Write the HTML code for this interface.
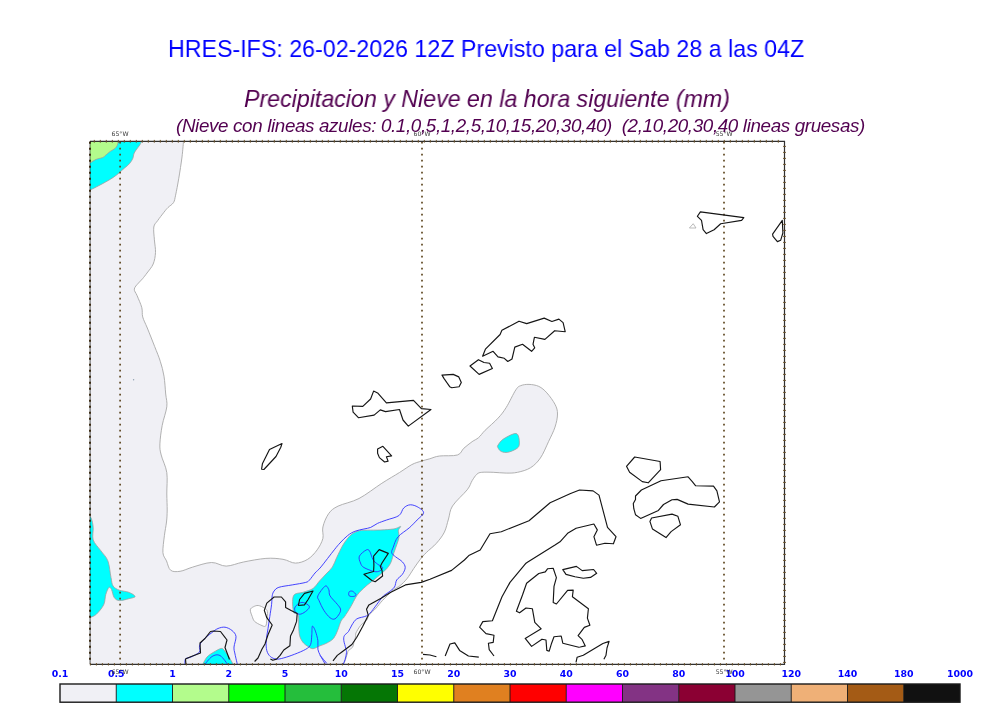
<!DOCTYPE html>
<html><head><meta charset="utf-8"><style>
html,body{margin:0;padding:0;background:#fff;width:1000px;height:707px;overflow:hidden}
body{position:relative}
.t{position:absolute;white-space:pre;will-change:transform;font-family:"Liberation Sans",Arial,sans-serif;line-height:1}
#t1{left:168px;top:37px;font-size:24.6px;color:#0000ff;transform:scaleX(0.944);transform-origin:0 0}
#t2{left:244px;top:88px;font-size:23.6px;color:#520050;font-style:italic;transform:scaleX(0.983);transform-origin:0 0}
#t3{left:176px;top:116.6px;font-size:18.8px;color:#520050;font-style:italic;letter-spacing:-0.35px}
</style></head><body>
<svg width="1000" height="707" viewBox="0 0 1000 707" style="position:absolute;left:0;top:0;will-change:transform"><defs><clipPath id="mc"><rect x="90.0" y="141.3" width="694.5" height="523.0"/></clipPath></defs><g clip-path="url(#mc)"><path d="M90.0 141.0 C90.0 141.0 183.5 141.0 183.5 141.0 C183.5 141.0 182.8 150.8 182.0 157.0 C181.2 163.2 179.9 171.8 178.8 178.2 C177.7 184.6 176.5 191.1 175.6 195.2 C174.7 199.3 174.8 200.5 173.5 202.6 C172.2 204.7 169.6 205.9 168.0 207.5 C166.4 209.1 165.7 210.0 164.0 212.2 C162.3 214.4 159.3 218.2 157.6 220.7 C155.9 223.2 154.3 223.8 153.8 227.0 C153.3 230.2 154.1 235.6 154.4 239.8 C154.7 244.1 155.7 248.5 155.5 252.5 C155.3 256.5 154.6 260.6 153.2 264.0 C151.8 267.4 148.8 270.5 147.0 273.0 C145.2 275.5 143.9 277.1 142.5 278.8 C141.1 280.5 139.9 281.3 138.5 283.0 C137.1 284.7 134.5 287.0 134.3 289.1 C134.1 291.2 135.8 292.5 137.1 295.6 C138.3 298.7 140.9 304.1 141.8 307.6 C142.7 311.2 141.8 313.5 142.7 316.9 C143.6 320.3 145.3 323.1 147.3 328.0 C149.3 332.9 152.5 341.0 154.7 346.6 C156.9 352.2 158.8 356.5 160.3 361.4 C161.9 366.3 163.1 370.8 164.0 376.2 C164.9 381.6 165.2 388.9 165.7 394.0 C166.2 399.1 167.4 401.6 166.8 406.8 C166.2 412.0 163.3 419.2 162.2 425.4 C161.0 431.6 160.1 439.0 159.9 443.9 C159.7 448.8 160.0 450.2 161.2 455.0 C162.3 459.8 165.9 466.1 166.8 472.6 C167.7 479.1 166.7 487.8 166.8 494.0 C166.9 500.2 167.2 505.3 167.2 510.0 C167.1 514.7 167.0 517.7 166.5 522.0 C166.0 526.3 165.0 530.6 164.4 535.7 C163.8 540.8 162.6 548.3 162.9 552.5 C163.2 556.7 165.2 557.9 166.5 560.9 C167.8 563.9 168.4 568.6 170.7 570.3 C173.0 572.0 176.4 571.8 180.1 571.3 C183.8 570.8 187.5 568.6 192.7 567.1 C197.9 565.6 205.9 562.7 211.5 562.5 C217.1 562.3 220.9 566.2 226.2 566.1 C231.5 566.0 236.9 563.3 243.5 562.0 C250.1 560.7 259.3 558.9 265.9 558.4 C272.5 557.9 278.1 558.5 283.0 559.3 C287.9 560.1 291.3 563.1 295.4 563.1 C299.5 563.1 304.1 561.5 307.7 559.3 C311.3 557.1 314.7 553.3 317.2 549.8 C319.7 546.3 321.9 542.2 322.9 538.4 C323.8 534.6 321.9 531.1 322.9 527.0 C323.8 522.9 326.1 517.2 328.6 513.7 C331.1 510.2 333.0 508.6 338.1 506.1 C343.2 503.6 351.7 502.3 359.0 498.5 C366.3 494.7 375.1 487.6 381.8 483.3 C388.6 479.0 394.5 475.6 399.5 472.5 C404.5 469.4 408.2 466.5 411.8 464.6 C415.4 462.7 418.4 462.1 421.4 461.1 C424.4 460.1 426.8 459.7 429.8 458.8 C432.8 457.9 434.9 456.6 439.5 456.0 C444.1 455.4 453.3 456.3 457.4 455.0 C461.5 453.7 461.4 450.4 463.9 448.2 C466.3 446.0 469.7 443.5 472.1 441.7 C474.6 439.9 476.4 439.5 478.6 437.6 C480.8 435.7 481.9 433.6 485.1 430.3 C488.4 427.1 494.6 421.9 498.1 418.1 C501.6 414.3 503.2 412.2 506.2 407.5 C509.2 402.8 513.5 393.2 516.0 389.6 C518.5 386.0 518.7 386.5 520.9 385.6 C523.1 384.7 526.0 384.3 529.0 384.4 C532.0 384.5 535.8 385.0 538.8 386.4 C541.8 387.8 544.2 389.9 546.9 392.9 C549.6 395.9 553.2 400.8 555.0 404.3 C556.8 407.8 557.5 410.2 557.5 414.0 C557.5 417.8 556.5 422.5 555.0 427.1 C553.5 431.7 550.9 436.6 548.5 441.7 C546.1 446.8 543.4 453.7 540.4 458.0 C537.4 462.3 534.4 465.3 530.6 467.7 C526.8 470.1 521.7 471.4 517.6 472.3 C513.5 473.2 510.3 473.1 506.2 473.1 C502.1 473.1 497.3 472.4 493.2 472.3 C489.1 472.2 484.5 472.0 481.8 472.3 C479.1 472.6 478.5 472.8 476.9 474.2 C475.3 475.6 473.7 478.1 472.1 480.7 C470.5 483.3 470.5 485.6 467.2 489.8 C463.9 494.0 455.6 501.1 452.5 506.0 C449.4 510.9 449.9 514.6 448.5 519.0 C447.1 523.4 446.4 528.0 444.4 532.1 C442.4 536.2 439.3 540.0 436.3 543.4 C433.3 546.8 429.2 549.7 426.5 552.4 C423.8 555.1 422.1 557.0 420.0 559.7 C417.9 562.4 415.9 565.4 413.7 568.6 C411.5 571.8 409.2 576.0 406.9 578.8 C404.6 581.6 402.4 583.7 400.1 585.6 C397.8 587.5 396.3 587.6 393.3 590.1 C390.3 592.6 385.2 597.7 382.3 600.7 C379.4 603.7 378.4 605.6 376.2 608.0 C374.0 610.4 370.5 613.3 368.9 615.3 C367.3 617.3 368.2 618.3 366.8 620.0 C365.4 621.7 362.5 623.2 360.7 625.4 C358.9 627.5 356.9 631.0 356.0 632.9 C355.1 634.8 356.0 635.4 355.6 637.0 C355.2 638.6 354.4 640.7 353.9 642.4 C353.4 644.1 353.5 645.9 352.6 647.2 C351.7 648.6 349.4 649.4 348.5 650.5 C347.6 651.6 347.8 652.3 347.2 654.0 C346.6 655.7 345.8 658.9 345.1 660.7 C344.4 662.5 343.1 665.0 343.1 665.0 C343.1 665.0 90.0 665.0 90.0 665.0 C90.0 665.0 90.0 141.0 90.0 141.0 Z M250.3 609.8 C250.5 608.2 252.1 607.5 253.4 606.8 C254.7 606.1 256.4 605.3 258.2 605.5 C260.0 605.7 262.8 607.0 264.3 608.0 C265.8 609.0 267.0 609.6 267.4 611.6 C267.8 613.6 267.1 617.7 266.8 620.1 C266.5 622.5 266.5 625.4 265.5 626.2 C264.5 627.0 262.5 625.8 260.7 625.0 C258.9 624.2 256.0 622.8 254.6 621.4 C253.2 620.0 252.9 618.4 252.2 616.5 C251.5 614.6 250.1 611.4 250.3 609.8 Z" fill="#f0f0f5" fill-rule="evenodd" stroke="#a8a8a8" stroke-width="0.9"/><path d="M89.0 140.0 C89.0 140.0 142.3 140.0 142.3 140.0 C142.3 140.0 140.7 143.4 139.7 145.1 C138.7 146.8 137.1 148.4 136.1 149.9 C135.1 151.4 134.3 152.6 133.8 154.0 C133.3 155.4 133.6 156.6 132.9 158.2 C132.2 159.8 130.9 161.9 129.6 163.5 C128.3 165.1 126.6 166.2 124.9 167.7 C123.2 169.2 121.4 170.9 119.5 172.5 C117.6 174.1 115.7 175.8 113.6 177.2 C111.5 178.6 109.5 179.8 107.0 181.2 C104.5 182.6 101.4 184.3 98.7 185.7 C96.0 187.1 92.7 188.8 91.1 189.5 C89.5 190.2 89.0 190.2 89.0 190.2 C89.0 190.2 89.0 140.0 89.0 140.0 Z" fill="#00ffff" stroke="#a0a0a0" stroke-width="0.8"/><path d="M89.0 515.5 C89.0 515.5 90.8 517.0 91.5 519.0 C92.2 521.0 92.9 523.9 93.2 527.4 C93.5 530.9 92.0 536.1 93.2 539.9 C94.4 543.7 98.1 546.9 100.6 550.4 C103.0 553.9 106.2 556.4 107.9 560.9 C109.6 565.4 110.1 573.4 111.0 577.6 C111.9 581.8 111.7 583.9 113.1 586.0 C114.5 588.1 116.8 589.2 119.4 590.2 C122.0 591.2 126.2 591.2 128.8 592.3 C131.4 593.3 135.1 595.4 135.1 596.5 C135.1 597.6 131.4 598.0 128.8 598.7 C126.2 599.4 121.8 600.8 119.4 600.6 C117.0 600.4 115.5 599.4 114.2 597.5 C112.9 595.6 112.4 591.2 111.5 589.5 C110.6 587.8 109.9 586.7 108.9 587.5 C108.0 588.3 106.7 591.5 105.8 594.4 C104.9 597.3 105.3 601.5 103.7 604.8 C102.1 608.1 98.6 612.1 96.4 614.2 C94.2 616.3 91.7 616.8 90.5 617.4 C89.3 618.0 89.0 617.6 89.0 617.6 C89.0 617.6 89.0 515.5 89.0 515.5 Z" fill="#00ffff" stroke="#a0a0a0" stroke-width="0.8"/><path d="M293.5 595.8 C295.1 592.5 300.1 593.4 303.3 592.2 C306.6 591.0 310.3 590.4 313.0 588.5 C315.7 586.6 317.3 583.4 319.5 581.0 C321.7 578.6 323.9 576.3 326.0 574.0 C328.1 571.7 330.6 569.8 332.4 567.0 C334.2 564.2 335.1 560.8 336.8 557.3 C338.5 553.8 340.7 549.0 342.4 546.0 C344.1 543.0 345.3 541.3 347.0 539.2 C348.7 537.1 350.5 535.0 352.6 533.6 C354.7 532.2 356.9 531.3 359.4 530.7 C361.8 530.1 363.7 530.3 367.3 530.2 C370.9 530.1 376.6 530.2 380.9 530.0 C385.2 529.8 390.6 529.4 393.3 529.0 C396.0 528.6 396.1 528.3 397.3 527.9 C398.5 527.5 400.5 526.1 400.7 526.5 C400.9 526.9 398.7 528.5 398.4 530.2 C398.1 532.0 399.3 534.5 399.0 537.0 C398.7 539.5 397.6 542.3 396.7 544.9 C395.8 547.5 394.8 550.0 393.9 552.8 C393.0 555.6 392.1 559.4 391.1 561.9 C390.1 564.4 389.0 565.8 387.7 567.5 C386.4 569.2 385.3 570.1 383.2 572.0 C381.1 573.9 377.8 576.6 375.2 578.8 C372.6 581.0 369.8 582.9 367.3 585.0 C364.9 587.1 362.4 589.3 360.5 591.3 C358.6 593.3 357.6 594.4 356.0 597.0 C354.4 599.6 352.6 603.5 350.7 606.8 C348.8 610.0 346.2 614.1 344.6 616.5 C343.0 618.9 342.1 618.7 341.0 621.0 C339.9 623.3 338.9 627.3 337.7 630.2 C336.5 633.1 335.4 636.1 333.6 638.3 C331.8 640.4 329.1 641.9 326.8 643.1 C324.5 644.4 322.3 644.9 320.0 645.8 C317.7 646.7 315.0 648.6 313.0 648.7 C311.0 648.8 309.7 647.5 308.1 646.5 C306.5 645.5 304.9 644.6 303.5 643.0 C302.1 641.4 300.8 639.4 300.0 637.0 C299.2 634.6 299.1 632.5 298.8 628.7 C298.5 624.9 299.1 616.9 298.2 614.1 C297.3 611.3 294.3 615.0 293.5 612.0 C292.7 609.0 291.9 599.1 293.5 595.8 Z" fill="#00ffff" stroke="#a0a0a0" stroke-width="0.8"/><path d="M202.5 665.0 C202.5 665.0 205.1 659.2 207.0 657.0 C208.9 654.8 211.7 653.4 214.0 652.0 C216.3 650.6 219.3 648.8 221.0 648.5 C222.7 648.2 222.7 648.6 224.0 650.0 C225.3 651.4 227.4 654.5 229.0 657.0 C230.6 659.5 233.5 665.0 233.5 665.0 C233.5 665.0 202.5 665.0 202.5 665.0 Z" fill="#00ffff" stroke="#a0a0a0" stroke-width="0.8"/><path d="M498.1 445.0 C499.0 443.6 500.3 441.2 503.0 439.3 C505.7 437.4 511.8 434.2 514.4 433.6 C517.0 433.1 517.6 434.1 518.4 436.0 C519.2 437.9 519.6 442.8 519.2 445.0 C518.8 447.2 517.9 447.8 516.0 449.0 C514.1 450.2 510.2 451.9 507.8 452.3 C505.4 452.7 503.0 452.3 501.3 451.5 C499.6 450.7 498.3 448.5 497.8 447.4 C497.3 446.3 497.2 446.4 498.1 445.0 Z" fill="#00ffff" stroke="#a0a0a0" stroke-width="0.8"/><path d="M89.0 140.0 C89.0 140.0 118.8 140.0 118.8 140.0 C118.8 140.0 117.9 143.9 117.3 145.3 C116.7 146.7 116.1 147.5 115.0 148.5 C113.9 149.5 112.2 150.1 110.5 151.3 C108.8 152.5 106.4 154.6 105.1 155.7 C103.8 156.8 104.2 156.9 102.6 157.6 C101.0 158.2 97.5 158.8 95.6 159.6 C93.7 160.4 92.2 161.9 91.1 162.4 C90.0 162.9 89.0 162.8 89.0 162.8 C89.0 162.8 89.0 140.0 89.0 140.0 Z" fill="#b3fc8c" stroke="#a0a0a0" stroke-width="0.8"/><path d="M689.4 228.0 L693.2 223.7 L696.0 228.0 Z" fill="none" stroke="#aaa" stroke-width="0.8"/><circle cx="133.6" cy="379.8" r="0.7" fill="#8fa0b0"/><line x1="120.1" y1="141.8" x2="120.1" y2="663.8" stroke="#5e4720" stroke-width="1.7" stroke-dasharray="1.6 4.4"/><line x1="422.0" y1="141.8" x2="422.0" y2="663.8" stroke="#5e4720" stroke-width="1.7" stroke-dasharray="1.6 4.4"/><line x1="724.0" y1="141.8" x2="724.0" y2="663.8" stroke="#5e4720" stroke-width="1.7" stroke-dasharray="1.6 4.4"/><path d="M325.2 664.0 C325.2 664.0 321.5 657.9 320.3 655.4 C319.1 652.9 318.3 651.7 317.9 649.3 C317.5 646.9 318.3 643.8 317.9 640.8 C317.5 637.8 316.3 633.5 315.4 631.1 C314.5 628.7 313.0 625.6 312.4 626.2 C311.8 626.8 312.1 631.7 311.8 634.7 C311.5 637.8 311.6 642.1 310.6 644.5 C309.6 646.9 308.4 647.7 305.7 649.3 C303.0 650.9 298.3 652.8 294.7 654.2 C291.1 655.6 286.8 657.1 283.8 657.9 C280.8 658.7 278.7 659.3 276.5 659.1 C274.3 658.9 272.0 658.0 270.4 656.6 C268.8 655.2 267.5 653.2 266.8 650.6 C266.1 648.0 266.0 644.4 266.2 640.8 C266.4 637.1 267.4 632.8 268.0 628.7 C268.6 624.7 269.2 620.6 269.8 616.5 C270.4 612.4 271.2 607.8 271.6 604.3 C272.0 600.8 271.8 598.0 272.2 595.8 C272.6 593.6 273.0 592.4 274.1 591.0 C275.2 589.6 275.9 588.3 278.9 587.3 C281.9 586.3 287.8 585.7 292.3 584.9 C296.8 584.1 302.8 583.2 305.7 582.4 C308.6 581.6 307.9 581.6 309.5 580.0 C311.1 578.4 313.1 575.2 315.0 573.0 C316.9 570.8 317.8 570.8 321.0 566.9 C324.2 563.0 331.1 553.8 334.3 549.8 C337.5 545.8 337.8 545.4 340.0 543.0 C342.2 540.6 345.1 537.6 347.6 535.6 C350.1 533.6 352.2 532.4 354.9 531.3 C357.6 530.2 361.3 529.6 363.9 529.0 C366.5 528.4 368.4 528.3 370.7 527.4 C373.0 526.5 374.9 524.6 377.5 523.4 C380.1 522.2 383.0 521.3 386.6 520.0 C390.2 518.7 396.0 517.6 398.9 515.6 C401.8 513.6 401.8 509.8 403.7 508.0 C405.6 506.2 407.9 504.9 410.3 504.8 C412.7 504.7 415.7 505.8 417.9 507.1 C420.1 508.4 423.7 510.6 423.6 512.8 C423.5 514.9 419.5 517.5 417.1 520.0 C414.7 522.5 412.4 525.1 409.2 527.9 C406.0 530.7 400.5 533.8 397.9 537.0 C395.2 540.2 394.3 544.5 393.3 547.1 C392.3 549.7 391.3 551.2 391.7 552.8 C392.1 554.4 393.8 555.3 395.6 556.8 C397.4 558.3 400.8 560.1 402.4 561.9 C404.0 563.7 405.2 565.4 405.2 567.5 C405.2 569.6 403.8 572.2 402.4 574.3 C401.0 576.4 398.0 577.9 396.7 580.0 C395.4 582.1 395.8 585.0 394.5 587.0 C393.2 589.0 390.8 590.5 389.0 592.0 C387.2 593.5 385.2 594.1 383.5 595.8 C381.8 597.4 380.7 599.3 378.7 601.9 C376.7 604.5 373.4 609.3 371.4 611.6 C369.4 613.9 368.9 614.7 366.5 615.9 C364.1 617.1 359.2 617.4 356.8 618.9 C354.4 620.4 353.3 622.9 351.9 625.0 C350.5 627.1 349.8 629.7 348.5 631.5 C347.2 633.3 345.2 634.1 344.4 635.6 C343.6 637.1 343.6 638.2 343.8 640.4 C344.0 642.5 345.4 646.5 345.8 648.5 C346.2 650.5 346.6 650.8 346.5 652.6 C346.4 654.4 345.7 657.4 345.1 659.4 C344.5 661.4 343.1 664.5 343.1 664.5M359.4 556.2 C360.3 554.0 364.5 550.9 366.2 550.0 C367.9 549.1 368.5 549.5 369.6 551.1 C370.7 552.7 371.7 557.4 373.0 559.6 C374.3 561.8 375.9 562.8 377.5 564.1 C379.1 565.4 382.2 566.4 382.6 567.5 C383.0 568.6 381.2 570.2 379.8 570.9 C378.4 571.6 376.8 572.1 374.1 571.5 C371.5 570.9 366.2 568.9 363.9 567.5 C361.6 566.1 361.2 564.9 360.5 563.0 C359.8 561.1 358.4 558.4 359.4 556.2 ZM349.2 591.8 C349.8 591.0 351.5 590.8 352.6 591.3 C353.7 591.8 355.8 593.9 356.0 594.7 C356.2 595.6 354.9 596.2 353.8 596.4 C352.7 596.6 350.0 596.6 349.2 595.8 C348.4 595.0 348.6 592.5 349.2 591.8 ZM294.7 608.0 C295.1 606.5 297.0 604.6 298.4 603.7 C299.8 602.8 301.5 602.1 303.3 602.5 C305.1 602.9 308.7 604.9 309.3 606.2 C309.9 607.5 308.3 609.1 306.9 610.4 C305.5 611.7 302.6 613.7 300.8 614.1 C299.0 614.5 297.0 613.8 296.0 612.8 C295.0 611.8 294.3 609.5 294.7 608.0 ZM317.9 595.8 C318.9 593.4 323.4 587.1 325.2 586.1 C327.0 585.1 328.0 588.1 328.8 589.7 C329.6 591.3 328.6 593.4 330.0 595.8 C331.4 598.2 335.6 602.1 337.3 604.3 C339.1 606.5 340.1 607.5 340.5 609.0 C340.9 610.5 340.4 611.9 339.5 613.5 C338.6 615.1 336.5 618.2 334.9 618.9 C333.3 619.6 331.8 619.1 330.0 617.7 C328.2 616.3 325.7 613.2 323.9 610.4 C322.1 607.6 320.1 603.1 319.1 600.7 C318.1 598.3 316.9 598.2 317.9 595.8 ZM185.0 665.0 C185.0 665.0 184.5 660.3 185.5 659.0 C186.5 657.7 188.7 658.2 191.0 657.0 C193.3 655.8 198.1 653.8 199.5 652.0 C200.9 650.2 198.9 648.0 199.5 646.0 C200.1 644.0 200.9 642.2 203.0 640.0 C205.1 637.8 209.5 634.4 212.0 632.5 C214.5 630.6 215.8 629.4 218.0 628.5 C220.2 627.6 222.7 626.9 225.0 627.2 C227.3 627.5 230.2 629.0 232.0 630.5 C233.8 632.0 235.7 633.8 236.0 636.5 C236.3 639.2 234.2 644.1 234.0 647.0 C233.8 649.9 234.4 651.0 235.0 654.0 C235.6 657.0 237.5 665.0 237.5 665.0M204.5 665.0 C204.5 665.0 209.4 658.1 212.0 656.5 C214.6 654.9 217.3 654.1 220.0 655.5 C222.7 656.9 228.0 665.0 228.0 665.0M320.0 655.3 C320.0 655.3 326.8 663.4 326.8 663.4" fill="none" stroke="#3030ff" stroke-width="0.9" stroke-linejoin="round"/><path d="M352.3 406.0 L362.8 406.4 L370.6 399.0 L373.6 391.1 L377.6 392.9 L386.4 402.9 L413.5 400.4 L421.4 408.6 L431.0 409.5 L408.3 426.1 L403.0 420.0 L399.5 409.5 L385.5 411.6 L380.3 409.9 L374.1 415.1 L358.4 417.7 L353.1 412.1 ZM377.6 448.9 L382.9 446.3 L391.6 455.9 L386.4 456.8 L388.1 461.1 L384.6 462.0 L379.4 457.6 L377.6 453.3 ZM282.0 443.5 L269.5 449.4 L262.4 463.8 L261.6 469.2 L263.9 469.5 L276.0 456.5 L280.8 447.2 ZM379.2 549.6 L388.3 553.4 L382.0 563.0 L380.3 566.4 L382.0 570.3 L382.6 576.0 L375.2 581.7 L371.9 580.5 L363.9 574.3 L367.3 573.2 L373.6 571.5 L373.9 565.2 L373.6 556.2 ZM313.0 591.0 L304.5 593.4 L299.6 599.5 L298.4 605.5 L304.5 604.9 L308.1 599.5 ZM482.6 356.2 L485.4 349.2 L500.1 334.5 L501.9 330.3 L519.0 321.2 L526.7 323.6 L544.2 318.1 L551.9 321.5 L558.9 319.1 L563.1 322.6 L565.2 331.7 L554.7 330.7 L544.9 339.4 L534.4 337.3 L533.0 344.3 L534.7 347.8 L531.6 351.3 L522.5 344.3 L514.8 347.1 L512.0 359.0 L507.8 361.5 L504.3 358.3 L498.0 356.9 L493.1 351.3 ZM470.0 366.0 L478.4 359.7 L484.0 362.5 L489.6 363.2 L492.4 368.5 L479.1 374.4 ZM442.0 375.1 L453.2 374.4 L458.8 376.9 L461.3 382.5 L459.1 386.7 L451.8 387.7 L449.7 386.7 L444.1 378.6 ZM700.4 211.9 L743.8 217.6 L741.6 220.4 L720.7 223.7 L714.1 229.7 L706.4 233.6 L703.1 229.7 L701.5 220.4 L697.4 216.3 ZM782.3 220.4 L782.9 233.0 L780.7 240.2 L777.4 241.6 L773.0 236.3 L772.6 234.1 ZM634.7 457.0 L660.1 461.5 L660.6 469.7 L648.2 482.8 L642.3 481.6 L629.6 472.2 L626.5 466.3 ZM641.4 490.0 L661.0 480.7 L688.1 476.8 L692.3 481.6 L695.7 485.8 L713.5 486.1 L716.9 490.9 L719.5 501.9 L714.4 507.0 L688.1 504.1 L677.1 499.4 L672.0 499.7 L663.5 504.5 L658.4 510.4 L640.6 518.4 L635.5 514.7 L633.8 508.7 L633.3 503.6 L635.5 499.4 L635.5 496.0 ZM651.6 518.0 L672.0 514.1 L677.9 516.3 L680.5 524.8 L671.1 531.6 L666.0 537.6 L652.5 529.1 L649.9 521.4 ZM562.8 569.6 L576.4 566.4 L582.2 570.6 L593.6 569.5 L596.7 573.3 L590.5 577.4 L583.3 578.2 L575.0 576.8 L566.0 574.4 ZM516.4 611.2 L522.5 595.0 L526.6 583.3 L538.8 573.5 L545.3 571.9 L547.7 568.7 L553.2 568.3 L556.4 577.6 L554.0 586.4 L553.2 602.4 L556.4 604.0 L567.6 590.4 L573.2 590.1 L572.4 596.8 L588.4 608.8 L587.4 618.1 L589.9 625.3 L584.3 627.4 L578.1 635.6 L582.2 639.7 L585.3 645.9 L580.2 647.0 L578.8 647.2 L562.8 643.2 L561.2 636.0 L554.0 636.8 L551.6 643.2 L549.2 651.2 L546.8 650.4 L546.0 640.0 L542.0 639.2 L531.6 646.4 L525.2 638.4 L541.2 628.8 L534.8 622.4 L532.4 608.8 L526.0 608.0 L519.6 612.8 ZM333.0 660.9 L337.3 655.4 L342.2 651.8 L351.9 644.5 L356.8 637.2 L362.8 626.2 L368.3 615.3 L366.5 609.2 L368.9 604.9 L381.1 598.2 L390.8 592.2 L405.4 584.9 L421.2 582.4 L430.0 579.2 L451.6 570.4 L464.4 560.0 L468.8 555.6 L480.2 550.0 L490.0 533.7 L501.3 531.7 L529.0 520.7 L550.1 502.8 L570.0 493.8 L579.5 490.0 L593.1 490.9 L599.0 495.1 L607.5 527.4 L616.0 536.7 L613.4 543.8 L605.0 543.2 L596.5 545.2 L593.9 536.7 L597.3 529.9 L593.9 524.0 L576.1 528.2 L567.6 533.3 L560.0 541.8 L555.0 545.1 L527.4 562.2 L526.0 563.2 L510.0 582.4 L502.0 596.8 L492.4 620.8 L482.8 621.6 L479.6 627.2 L486.0 633.6 L494.0 635.2 L493.2 642.4 L488.4 643.2 L489.2 649.6 L494.0 656.0M423.0 654.4 L430.0 655.0 L436.4 656.8M445.2 656.0 L450.0 644.0 L454.8 642.9 L459.6 650.4 L468.4 656.0 L478.8 657.1M576.0 662.4 L577.1 657.3 L583.3 655.2 L602.9 643.5 L609.1 641.4 L607.0 648.0 L606.0 655.2 L603.9 659.3M254.6 661.5 L258.0 658.0 L261.9 649.3 L265.0 644.0 L268.0 634.7 L272.2 625.0 L266.8 617.7 L264.3 610.4 L266.8 603.1 L274.1 597.0 L281.4 597.0 L285.6 601.9 L285.6 607.4 L291.1 610.4 L297.2 613.5 L296.6 621.4 L293.5 629.9 L290.5 636.0 L289.9 645.7 L283.8 650.0 L280.1 655.4 L276.5 659.1 L272.8 660.3 L270.4 659.1M186.0 665.0 L185.5 659.0 L190.0 657.0 L200.5 653.0 L200.0 643.0 L205.0 638.5 L210.5 631.5 L213.5 631.0 L220.5 631.5 L227.0 640.0 L225.0 647.5 L229.5 659.5" fill="none" stroke="#151515" stroke-width="1.15" stroke-linejoin="round"/></g><path d="M90.0 141.3H784.5V664.3H90.0" fill="none" stroke="#303030" stroke-width="1.2"/><line x1="90.0" y1="141.3" x2="90.0" y2="664.3" stroke="#000" stroke-opacity="0.5" stroke-width="1.2"/><path d="M94.3 139.9v2.8M100.3 139.9v2.8M106.3 139.9v2.8M112.3 139.9v2.8M118.3 139.9v2.8M124.3 139.9v2.8M130.3 139.9v2.8M136.3 139.9v2.8M142.3 139.9v2.8M148.3 139.9v2.8M154.3 139.9v2.8M160.3 139.9v2.8M166.3 139.9v2.8M172.3 139.9v2.8M178.3 139.9v2.8M184.3 139.9v2.8M190.3 139.9v2.8M196.3 139.9v2.8M202.3 139.9v2.8M208.3 139.9v2.8M214.3 139.9v2.8M220.3 139.9v2.8M226.3 139.9v2.8M232.3 139.9v2.8M238.3 139.9v2.8M244.3 139.9v2.8M250.3 139.9v2.8M256.3 139.9v2.8M262.3 139.9v2.8M268.3 139.9v2.8M274.3 139.9v2.8M280.3 139.9v2.8M286.3 139.9v2.8M292.3 139.9v2.8M298.3 139.9v2.8M304.3 139.9v2.8M310.3 139.9v2.8M316.3 139.9v2.8M322.3 139.9v2.8M328.3 139.9v2.8M334.3 139.9v2.8M340.3 139.9v2.8M346.3 139.9v2.8M352.3 139.9v2.8M358.3 139.9v2.8M364.3 139.9v2.8M370.3 139.9v2.8M376.3 139.9v2.8M382.3 139.9v2.8M388.3 139.9v2.8M394.3 139.9v2.8M400.3 139.9v2.8M406.3 139.9v2.8M412.3 139.9v2.8M418.3 139.9v2.8M424.3 139.9v2.8M430.3 139.9v2.8M436.3 139.9v2.8M442.3 139.9v2.8M448.3 139.9v2.8M454.3 139.9v2.8M460.3 139.9v2.8M466.3 139.9v2.8M472.3 139.9v2.8M478.3 139.9v2.8M484.3 139.9v2.8M490.3 139.9v2.8M496.3 139.9v2.8M502.3 139.9v2.8M508.3 139.9v2.8M514.3 139.9v2.8M520.3 139.9v2.8M526.3 139.9v2.8M532.3 139.9v2.8M538.3 139.9v2.8M544.3 139.9v2.8M550.3 139.9v2.8M556.3 139.9v2.8M562.3 139.9v2.8M568.3 139.9v2.8M574.3 139.9v2.8M580.3 139.9v2.8M586.3 139.9v2.8M592.3 139.9v2.8M598.3 139.9v2.8M604.3 139.9v2.8M610.3 139.9v2.8M616.3 139.9v2.8M622.3 139.9v2.8M628.3 139.9v2.8M634.3 139.9v2.8M640.3 139.9v2.8M646.3 139.9v2.8M652.3 139.9v2.8M658.3 139.9v2.8M664.3 139.9v2.8M670.3 139.9v2.8M676.3 139.9v2.8M682.3 139.9v2.8M688.3 139.9v2.8M694.3 139.9v2.8M700.3 139.9v2.8M706.3 139.9v2.8M712.3 139.9v2.8M718.3 139.9v2.8M724.3 139.9v2.8M730.3 139.9v2.8M736.3 139.9v2.8M742.3 139.9v2.8M748.3 139.9v2.8M754.3 139.9v2.8M760.3 139.9v2.8M766.3 139.9v2.8M772.3 139.9v2.8M778.3 139.9v2.8M90.4 663.0999999999999v2.4M96.4 663.0999999999999v2.4M102.4 663.0999999999999v2.4M108.4 663.0999999999999v2.4M114.4 663.0999999999999v2.4M120.4 663.0999999999999v2.4M126.4 663.0999999999999v2.4M132.4 663.0999999999999v2.4M138.4 663.0999999999999v2.4M144.4 663.0999999999999v2.4M150.4 663.0999999999999v2.4M156.4 663.0999999999999v2.4M162.4 663.0999999999999v2.4M168.4 663.0999999999999v2.4M174.4 663.0999999999999v2.4M180.4 663.0999999999999v2.4M186.4 663.0999999999999v2.4M192.4 663.0999999999999v2.4M198.4 663.0999999999999v2.4M204.4 663.0999999999999v2.4M210.4 663.0999999999999v2.4M216.4 663.0999999999999v2.4M222.4 663.0999999999999v2.4M228.4 663.0999999999999v2.4M234.4 663.0999999999999v2.4M240.4 663.0999999999999v2.4M246.4 663.0999999999999v2.4M252.4 663.0999999999999v2.4M258.4 663.0999999999999v2.4M264.4 663.0999999999999v2.4M270.4 663.0999999999999v2.4M276.4 663.0999999999999v2.4M282.4 663.0999999999999v2.4M288.4 663.0999999999999v2.4M294.4 663.0999999999999v2.4M300.4 663.0999999999999v2.4M306.4 663.0999999999999v2.4M312.4 663.0999999999999v2.4M318.4 663.0999999999999v2.4M324.4 663.0999999999999v2.4M330.4 663.0999999999999v2.4M336.4 663.0999999999999v2.4M342.4 663.0999999999999v2.4M348.4 663.0999999999999v2.4M354.4 663.0999999999999v2.4M360.4 663.0999999999999v2.4M366.4 663.0999999999999v2.4M372.4 663.0999999999999v2.4M378.4 663.0999999999999v2.4M384.4 663.0999999999999v2.4M390.4 663.0999999999999v2.4M396.4 663.0999999999999v2.4M402.4 663.0999999999999v2.4M408.4 663.0999999999999v2.4M414.4 663.0999999999999v2.4M420.4 663.0999999999999v2.4M426.4 663.0999999999999v2.4M432.4 663.0999999999999v2.4M438.4 663.0999999999999v2.4M444.4 663.0999999999999v2.4M450.4 663.0999999999999v2.4M456.4 663.0999999999999v2.4M462.4 663.0999999999999v2.4M468.4 663.0999999999999v2.4M474.4 663.0999999999999v2.4M480.4 663.0999999999999v2.4M486.4 663.0999999999999v2.4M492.4 663.0999999999999v2.4M498.4 663.0999999999999v2.4M504.4 663.0999999999999v2.4M510.4 663.0999999999999v2.4M516.4 663.0999999999999v2.4M522.4 663.0999999999999v2.4M528.4 663.0999999999999v2.4M534.4 663.0999999999999v2.4M540.4 663.0999999999999v2.4M546.4 663.0999999999999v2.4M552.4 663.0999999999999v2.4M558.4 663.0999999999999v2.4M564.4 663.0999999999999v2.4M570.4 663.0999999999999v2.4M576.4 663.0999999999999v2.4M582.4 663.0999999999999v2.4M588.4 663.0999999999999v2.4M594.4 663.0999999999999v2.4M600.4 663.0999999999999v2.4M606.4 663.0999999999999v2.4M612.4 663.0999999999999v2.4M618.4 663.0999999999999v2.4M624.4 663.0999999999999v2.4M630.4 663.0999999999999v2.4M636.4 663.0999999999999v2.4M642.4 663.0999999999999v2.4M648.4 663.0999999999999v2.4M654.4 663.0999999999999v2.4M660.4 663.0999999999999v2.4M666.4 663.0999999999999v2.4M672.4 663.0999999999999v2.4M678.4 663.0999999999999v2.4M684.4 663.0999999999999v2.4M690.4 663.0999999999999v2.4M696.4 663.0999999999999v2.4M702.4 663.0999999999999v2.4M708.4 663.0999999999999v2.4M714.4 663.0999999999999v2.4M720.4 663.0999999999999v2.4M726.4 663.0999999999999v2.4M732.4 663.0999999999999v2.4M738.4 663.0999999999999v2.4M744.4 663.0999999999999v2.4M750.4 663.0999999999999v2.4M756.4 663.0999999999999v2.4M762.4 663.0999999999999v2.4M768.4 663.0999999999999v2.4M774.4 663.0999999999999v2.4M780.4 663.0999999999999v2.4M783.1 146.4h2.8M783.1 152.4h2.8M783.1 158.4h2.8M783.1 164.4h2.8M783.1 170.4h2.8M783.1 176.4h2.8M783.1 182.4h2.8M783.1 188.4h2.8M783.1 194.4h2.8M783.1 200.4h2.8M783.1 206.4h2.8M783.1 212.4h2.8M783.1 218.4h2.8M783.1 224.4h2.8M783.1 230.4h2.8M783.1 236.4h2.8M783.1 242.4h2.8M783.1 248.4h2.8M783.1 254.4h2.8M783.1 260.4h2.8M783.1 266.4h2.8M783.1 272.4h2.8M783.1 278.4h2.8M783.1 284.4h2.8M783.1 290.4h2.8M783.1 296.4h2.8M783.1 302.4h2.8M783.1 308.4h2.8M783.1 314.4h2.8M783.1 320.4h2.8M783.1 326.4h2.8M783.1 332.4h2.8M783.1 338.4h2.8M783.1 344.4h2.8M783.1 350.4h2.8M783.1 356.4h2.8M783.1 362.4h2.8M783.1 368.4h2.8M783.1 374.4h2.8M783.1 380.4h2.8M783.1 386.4h2.8M783.1 392.4h2.8M783.1 398.4h2.8M783.1 404.4h2.8M783.1 410.4h2.8M783.1 416.4h2.8M783.1 422.4h2.8M783.1 428.4h2.8M783.1 434.4h2.8M783.1 440.4h2.8M783.1 446.4h2.8M783.1 452.4h2.8M783.1 458.4h2.8M783.1 464.4h2.8M783.1 470.4h2.8M783.1 476.4h2.8M783.1 482.4h2.8M783.1 488.4h2.8M783.1 494.4h2.8M783.1 500.4h2.8M783.1 506.4h2.8M783.1 512.4h2.8M783.1 518.4h2.8M783.1 524.4h2.8M783.1 530.4h2.8M783.1 536.4h2.8M783.1 542.4h2.8M783.1 548.4h2.8M783.1 554.4h2.8M783.1 560.4h2.8M783.1 566.4h2.8M783.1 572.4h2.8M783.1 578.4h2.8M783.1 584.4h2.8M783.1 590.4h2.8M783.1 596.4h2.8M783.1 602.4h2.8M783.1 608.4h2.8M783.1 614.4h2.8M783.1 620.4h2.8M783.1 626.4h2.8M783.1 632.4h2.8M783.1 638.4h2.8M783.1 644.4h2.8M783.1 650.4h2.8M783.1 656.4h2.8M783.1 662.4h2.8" stroke="#6a5028" stroke-width="1.0" fill="none"/><path d="M89.0 141.8h2v2h-2zM89.0 147.8h2v2h-2zM89.0 153.8h2v2h-2zM89.0 159.8h2v2h-2zM89.0 165.8h2v2h-2zM89.0 171.8h2v2h-2zM89.0 177.8h2v2h-2zM89.0 183.8h2v2h-2zM89.0 189.8h2v2h-2zM89.0 195.8h2v2h-2zM89.0 201.8h2v2h-2zM89.0 207.8h2v2h-2zM89.0 213.8h2v2h-2zM89.0 219.8h2v2h-2zM89.0 225.8h2v2h-2zM89.0 231.8h2v2h-2zM89.0 237.8h2v2h-2zM89.0 243.8h2v2h-2zM89.0 249.8h2v2h-2zM89.0 255.8h2v2h-2zM89.0 261.8h2v2h-2zM89.0 267.8h2v2h-2zM89.0 273.8h2v2h-2zM89.0 279.8h2v2h-2zM89.0 285.8h2v2h-2zM89.0 291.8h2v2h-2zM89.0 297.8h2v2h-2zM89.0 303.8h2v2h-2zM89.0 309.8h2v2h-2zM89.0 315.8h2v2h-2zM89.0 321.8h2v2h-2zM89.0 327.8h2v2h-2zM89.0 333.8h2v2h-2zM89.0 339.8h2v2h-2zM89.0 345.8h2v2h-2zM89.0 351.8h2v2h-2zM89.0 357.8h2v2h-2zM89.0 363.8h2v2h-2zM89.0 369.8h2v2h-2zM89.0 375.8h2v2h-2zM89.0 381.8h2v2h-2zM89.0 387.8h2v2h-2zM89.0 393.8h2v2h-2zM89.0 399.8h2v2h-2zM89.0 405.8h2v2h-2zM89.0 411.8h2v2h-2zM89.0 417.8h2v2h-2zM89.0 423.8h2v2h-2zM89.0 429.8h2v2h-2zM89.0 435.8h2v2h-2zM89.0 441.8h2v2h-2zM89.0 447.8h2v2h-2zM89.0 453.8h2v2h-2zM89.0 459.8h2v2h-2zM89.0 465.8h2v2h-2zM89.0 471.8h2v2h-2zM89.0 477.8h2v2h-2zM89.0 483.8h2v2h-2zM89.0 489.8h2v2h-2zM89.0 495.8h2v2h-2zM89.0 501.8h2v2h-2zM89.0 507.8h2v2h-2zM89.0 513.8h2v2h-2zM89.0 519.8h2v2h-2zM89.0 525.8h2v2h-2zM89.0 531.8h2v2h-2zM89.0 537.8h2v2h-2zM89.0 543.8h2v2h-2zM89.0 549.8h2v2h-2zM89.0 555.8h2v2h-2zM89.0 561.8h2v2h-2zM89.0 567.8h2v2h-2zM89.0 573.8h2v2h-2zM89.0 579.8h2v2h-2zM89.0 585.8h2v2h-2zM89.0 591.8h2v2h-2zM89.0 597.8h2v2h-2zM89.0 603.8h2v2h-2zM89.0 609.8h2v2h-2zM89.0 615.8h2v2h-2zM89.0 621.8h2v2h-2zM89.0 627.8h2v2h-2zM89.0 633.8h2v2h-2zM89.0 639.8h2v2h-2zM89.0 645.8h2v2h-2zM89.0 651.8h2v2h-2zM89.0 657.8h2v2h-2z" fill="#3a2a12"/><rect x="60.00" y="684.0" width="56.25" height="18.2" fill="#f0f0f5"/><rect x="116.25" y="684.0" width="56.25" height="18.2" fill="#00ffff"/><rect x="172.50" y="684.0" width="56.25" height="18.2" fill="#b3fc8c"/><rect x="228.75" y="684.0" width="56.25" height="18.2" fill="#00ff00"/><rect x="285.00" y="684.0" width="56.25" height="18.2" fill="#25be3c"/><rect x="341.25" y="684.0" width="56.25" height="18.2" fill="#057605"/><rect x="397.50" y="684.0" width="56.25" height="18.2" fill="#ffff00"/><rect x="453.75" y="684.0" width="56.25" height="18.2" fill="#e08020"/><rect x="510.00" y="684.0" width="56.25" height="18.2" fill="#ff0000"/><rect x="566.25" y="684.0" width="56.25" height="18.2" fill="#ff00ff"/><rect x="622.50" y="684.0" width="56.25" height="18.2" fill="#833384"/><rect x="678.75" y="684.0" width="56.25" height="18.2" fill="#8b0033"/><rect x="735.00" y="684.0" width="56.25" height="18.2" fill="#959595"/><rect x="791.25" y="684.0" width="56.25" height="18.2" fill="#efb077"/><rect x="847.50" y="684.0" width="56.25" height="18.2" fill="#a45b15"/><rect x="903.75" y="684.0" width="56.25" height="18.2" fill="#111111"/><line x1="116.25" y1="684.0" x2="116.25" y2="702.2" stroke="#151515" stroke-width="0.9"/><line x1="172.50" y1="684.0" x2="172.50" y2="702.2" stroke="#151515" stroke-width="0.9"/><line x1="228.75" y1="684.0" x2="228.75" y2="702.2" stroke="#151515" stroke-width="0.9"/><line x1="285.00" y1="684.0" x2="285.00" y2="702.2" stroke="#151515" stroke-width="0.9"/><line x1="341.25" y1="684.0" x2="341.25" y2="702.2" stroke="#151515" stroke-width="0.9"/><line x1="397.50" y1="684.0" x2="397.50" y2="702.2" stroke="#151515" stroke-width="0.9"/><line x1="453.75" y1="684.0" x2="453.75" y2="702.2" stroke="#151515" stroke-width="0.9"/><line x1="510.00" y1="684.0" x2="510.00" y2="702.2" stroke="#151515" stroke-width="0.9"/><line x1="566.25" y1="684.0" x2="566.25" y2="702.2" stroke="#151515" stroke-width="0.9"/><line x1="622.50" y1="684.0" x2="622.50" y2="702.2" stroke="#151515" stroke-width="0.9"/><line x1="678.75" y1="684.0" x2="678.75" y2="702.2" stroke="#151515" stroke-width="0.9"/><line x1="735.00" y1="684.0" x2="735.00" y2="702.2" stroke="#151515" stroke-width="0.9"/><line x1="791.25" y1="684.0" x2="791.25" y2="702.2" stroke="#151515" stroke-width="0.9"/><line x1="847.50" y1="684.0" x2="847.50" y2="702.2" stroke="#151515" stroke-width="0.9"/><line x1="903.75" y1="684.0" x2="903.75" y2="702.2" stroke="#151515" stroke-width="0.9"/><rect x="60.0" y="684.0" width="900.0" height="18.2" fill="none" stroke="#1a1a1a" stroke-width="1.4"/><text x="60.00" y="677" text-anchor="middle" font-family="DejaVu Sans, sans-serif" font-weight="bold" font-size="9.4" fill="#0000ff">0.1</text><text x="116.25" y="677" text-anchor="middle" font-family="DejaVu Sans, sans-serif" font-weight="bold" font-size="9.4" fill="#0000ff">0.5</text><text x="172.50" y="677" text-anchor="middle" font-family="DejaVu Sans, sans-serif" font-weight="bold" font-size="9.4" fill="#0000ff">1</text><text x="228.75" y="677" text-anchor="middle" font-family="DejaVu Sans, sans-serif" font-weight="bold" font-size="9.4" fill="#0000ff">2</text><text x="285.00" y="677" text-anchor="middle" font-family="DejaVu Sans, sans-serif" font-weight="bold" font-size="9.4" fill="#0000ff">5</text><text x="341.25" y="677" text-anchor="middle" font-family="DejaVu Sans, sans-serif" font-weight="bold" font-size="9.4" fill="#0000ff">10</text><text x="397.50" y="677" text-anchor="middle" font-family="DejaVu Sans, sans-serif" font-weight="bold" font-size="9.4" fill="#0000ff">15</text><text x="453.75" y="677" text-anchor="middle" font-family="DejaVu Sans, sans-serif" font-weight="bold" font-size="9.4" fill="#0000ff">20</text><text x="510.00" y="677" text-anchor="middle" font-family="DejaVu Sans, sans-serif" font-weight="bold" font-size="9.4" fill="#0000ff">30</text><text x="566.25" y="677" text-anchor="middle" font-family="DejaVu Sans, sans-serif" font-weight="bold" font-size="9.4" fill="#0000ff">40</text><text x="622.50" y="677" text-anchor="middle" font-family="DejaVu Sans, sans-serif" font-weight="bold" font-size="9.4" fill="#0000ff">60</text><text x="678.75" y="677" text-anchor="middle" font-family="DejaVu Sans, sans-serif" font-weight="bold" font-size="9.4" fill="#0000ff">80</text><text x="735.00" y="677" text-anchor="middle" font-family="DejaVu Sans, sans-serif" font-weight="bold" font-size="9.4" fill="#0000ff">100</text><text x="791.25" y="677" text-anchor="middle" font-family="DejaVu Sans, sans-serif" font-weight="bold" font-size="9.4" fill="#0000ff">120</text><text x="847.50" y="677" text-anchor="middle" font-family="DejaVu Sans, sans-serif" font-weight="bold" font-size="9.4" fill="#0000ff">140</text><text x="903.75" y="677" text-anchor="middle" font-family="DejaVu Sans, sans-serif" font-weight="bold" font-size="9.4" fill="#0000ff">180</text><text x="960.00" y="677" text-anchor="middle" font-family="DejaVu Sans, sans-serif" font-weight="bold" font-size="9.4" fill="#0000ff">1000</text><text x="120.0" y="135.6" text-anchor="middle" font-family="DejaVu Sans, sans-serif" font-size="6.2" fill="#383838">65°W</text><text x="120.0" y="673.9" text-anchor="middle" font-family="DejaVu Sans, sans-serif" font-size="6.2" fill="#383838">65°W</text><text x="422.0" y="135.6" text-anchor="middle" font-family="DejaVu Sans, sans-serif" font-size="6.2" fill="#383838">60°W</text><text x="422.0" y="673.9" text-anchor="middle" font-family="DejaVu Sans, sans-serif" font-size="6.2" fill="#383838">60°W</text><text x="724.2" y="135.6" text-anchor="middle" font-family="DejaVu Sans, sans-serif" font-size="6.2" fill="#383838">55°W</text><text x="724.2" y="673.9" text-anchor="middle" font-family="DejaVu Sans, sans-serif" font-size="6.2" fill="#383838">55°W</text></svg>
<div class="t" id="t1">HRES-IFS: 26-02-2026 12Z Previsto para el Sab 28 a las 04Z</div>
<div class="t" id="t2">Precipitacion y Nieve en la hora siguiente (mm)</div>
<div class="t" id="t3">(Nieve con lineas azules: 0.1,0,5,1,2,5,10,15,20,30,40)  (2,10,20,30,40 lineas gruesas)</div>
</body></html>
